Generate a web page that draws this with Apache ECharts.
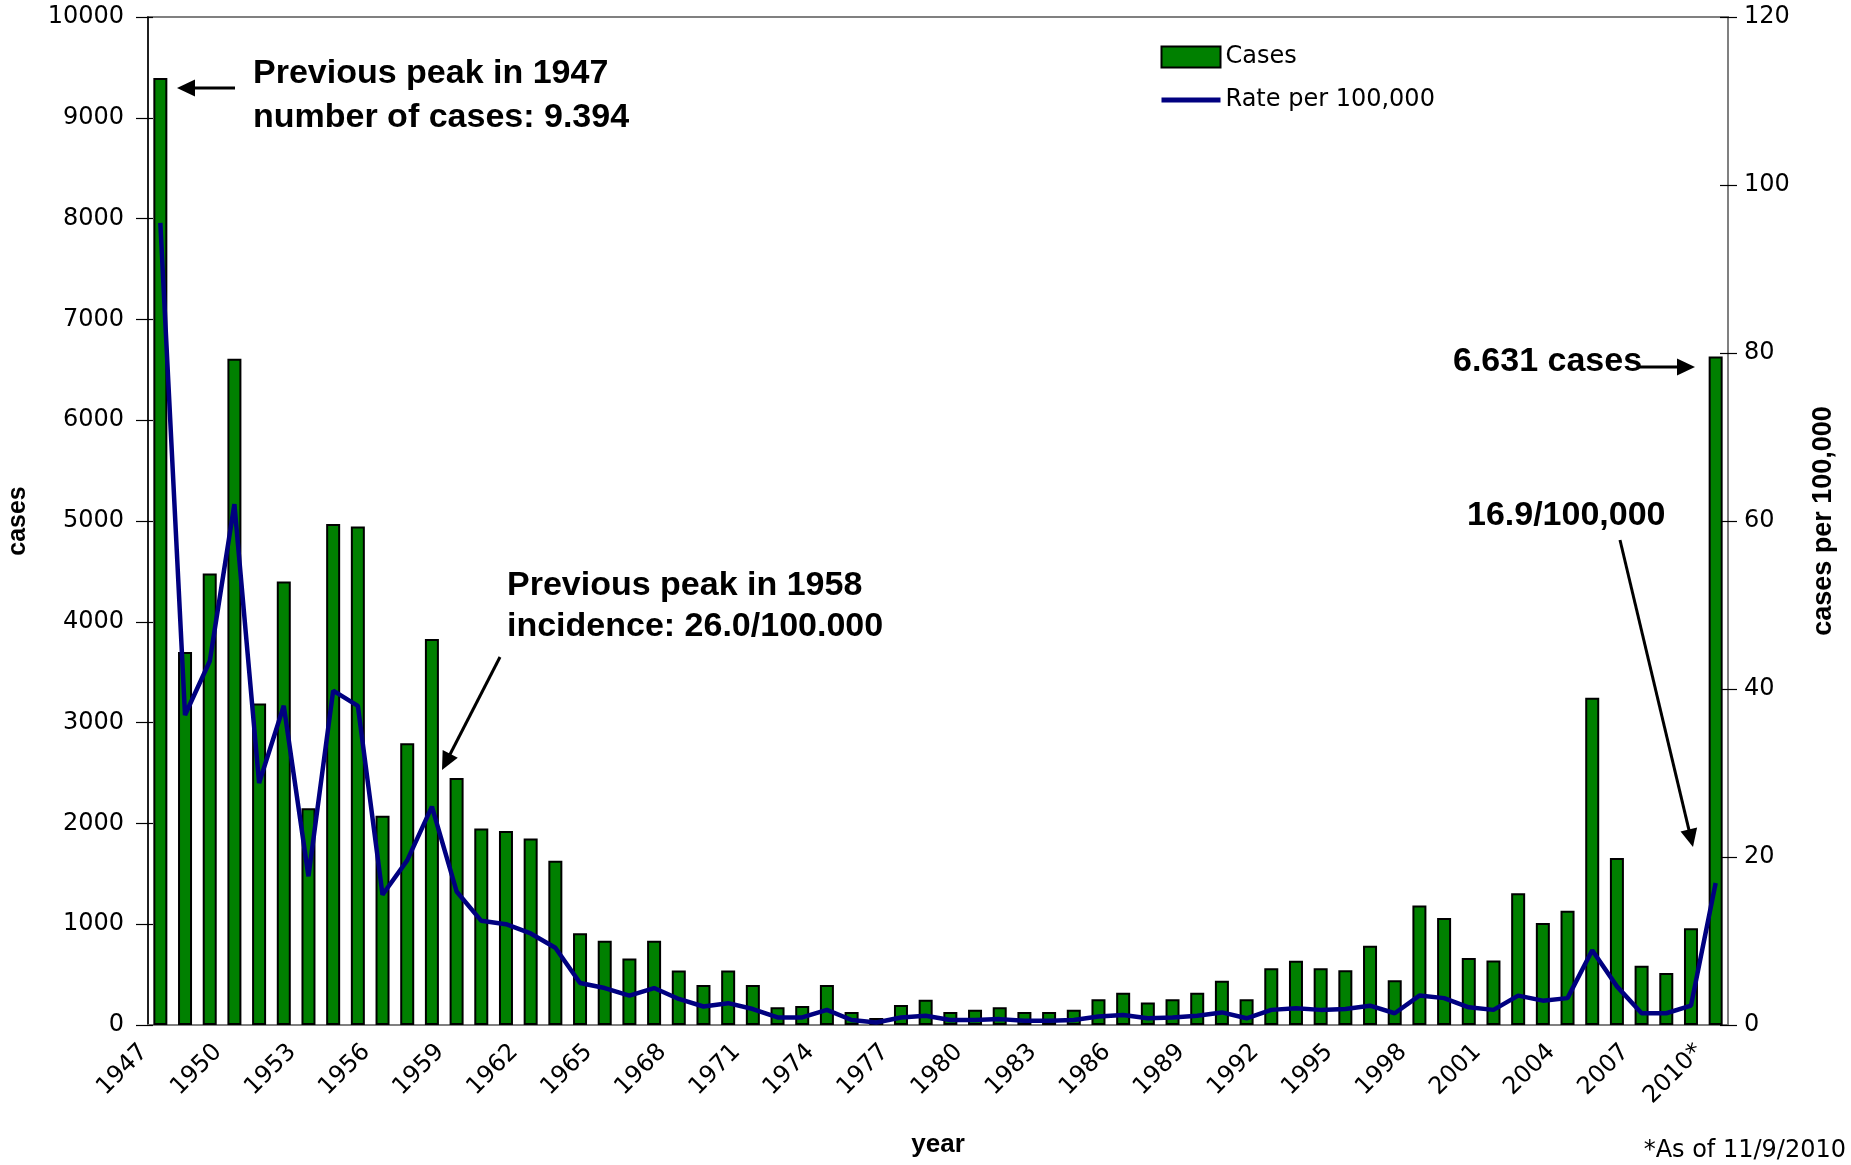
<!DOCTYPE html>
<html>
<head>
<meta charset="utf-8">
<script src="https://cdn.jsdelivr.net/npm/echarts@6/dist/echarts.min.js"></script>
<style>
html,body{margin:0;padding:0;background:#fff;}
#chart{width:1851px;height:1165px;}
</style>
</head>
<body>
<div id="chart"></div>
<script>
const categories = ['1947','1948','1949','1950','1951','1952','1953','1954','1955','1956',
  '1957','1958','1959','1960','1961','1962','1963','1964','1965','1966',
  '1967','1968','1969','1970','1971','1972','1973','1974','1975','1976',
  '1977','1978','1979','1980','1981','1982','1983','1984','1985','1986',
  '1987','1988','1989','1990','1991','1992','1993','1994','1995','1996',
  '1997','1998','1999','2000','2001','2002','2003','2004','2005','2006',
  '2007','2008','2009','2010*'];

const cases = [9394,3700,4480,6610,3190,4400,2150,4970,4945,2075,
  2795,3830,2450,1950,1925,1850,1630,910,835,660,
  835,540,397,540,397,176,188,397,129,70,
  199,250,129,152,176,129,129,152,255,321,
  223,255,321,440,255,562,638,562,542,787,
  443,1185,1061,665,641,1306,1012,1134,3247,1657,
  589,515,959,6631];

const ratePer100k = [95.5,36.9,43.3,62.0,28.8,38.0,17.7,39.8,38.0,15.5,
  19.6,26.0,15.9,12.4,12.0,10.9,9.2,5.0,4.4,3.5,
  4.4,3.1,2.2,2.6,1.9,0.9,0.9,1.8,0.6,0.3,
  0.9,1.1,0.6,0.6,0.7,0.5,0.5,0.6,1.0,1.2,
  0.8,0.9,1.1,1.5,0.8,1.8,2.0,1.8,1.9,2.3,
  1.4,3.5,3.2,2.1,1.8,3.5,2.9,3.2,8.9,4.6,
  1.4,1.4,2.3,16.9];

const casesTicks = {min: 0, max: 10000, interval: 1000};
const rateTicks = {min: 0, max: 120, interval: 20};

const regularFont = 'DejaVu Sans';
const boldFont = 'Liberation Sans';

function arrow(x1, y1, x2, y2) {
  const dx = x2 - x1, dy = y2 - y1;
  const len = Math.sqrt(dx * dx + dy * dy);
  const ux = dx / len, uy = dy / len;
  const L = 18, W = 8.5;
  const bx = x2 - ux * L, by = y2 - uy * L;
  const nx = -uy, ny = ux;
  return [
    {type: 'line', silent: true, z: 100,
      shape: {x1: x1, y1: y1, x2: bx + ux * 2, y2: by + uy * 2},
      style: {stroke: '#000', lineWidth: 3}},
    {type: 'polygon', silent: true, z: 100,
      shape: {points: [[x2, y2], [bx + nx * W, by + ny * W], [bx - nx * W, by - ny * W]]},
      style: {fill: '#000'}}
  ];
}

function label(text, x, y) {
  return {type: 'text', silent: true, z: 100,
    style: {text: text, x: x, y: y, font: 'bold 34px "' + boldFont + '"',
      fill: '#000', textAlign: 'left', textVerticalAlign: 'middle'}};
}

const plainNumber = function (v) { return String(v); };

function innerTicks(position, ticks, len) {
  return {
    type: 'value', position: position,
    min: ticks.min, max: ticks.max, interval: ticks.interval,
    axisLine: {show: false},
    axisTick: {show: true, inside: true, length: len, lineStyle: {color: '#000', width: 1.2}},
    axisLabel: {show: false},
    splitLine: {show: false}
  };
}

const chart = echarts.init(document.getElementById('chart'));
chart.setOption({
  animation: false,
  backgroundColor: '#fff',
  grid: {left: 148, right: 123, top: 17, bottom: 140, containLabel: false,
    outerBoundsMode: 'none',
    show: true, borderColor: '#808080', borderWidth: 2},
  legend: {
    orient: 'vertical', left: 1154, top: 40,
    itemWidth: 59, itemHeight: 21, itemGap: 19,
    textStyle: {fontFamily: regularFont, fontSize: 24, color: '#000'},
    data: [{name: 'Cases', icon: 'rect'},
      {name: 'Rate per 100,000', itemStyle: {opacity: 0}, lineStyle: {width: 5, color: '#000080'}}]
  },
  xAxis: {
    type: 'category', data: categories, boundaryGap: true,
    axisLine: {lineStyle: {color: '#808080', width: 2}},
    axisTick: {show: false},
    axisLabel: {interval: 2, rotate: 45, fontFamily: regularFont, fontSize: 24, color: '#000',
      margin: 7, formatter: function (v) { return v + '   '; }},
    splitLine: {show: false},
    name: 'year', nameLocation: 'middle', nameGap: 107,
    nameTextStyle: {fontFamily: boldFont, fontWeight: 'bold', fontSize: 26, color: '#000'}
  },
  yAxis: [{
    type: 'value', position: 'left',
    min: casesTicks.min, max: casesTicks.max, interval: casesTicks.interval,
    axisLine: {show: true, lineStyle: {color: '#000', width: 1.5}},
    axisTick: {show: true, length: 12, lineStyle: {color: '#000', width: 1.2}},
    axisLabel: {fontFamily: regularFont, fontSize: 24, color: '#000', margin: 24, formatter: plainNumber},
    splitLine: {show: false},
    name: 'cases', nameLocation: 'middle', nameGap: 117, nameRotate: 90,
    nameTextStyle: {fontFamily: boldFont, fontWeight: 'bold', fontSize: 25, color: '#000'}
  }, {
    type: 'value', position: 'right',
    min: rateTicks.min, max: rateTicks.max, interval: rateTicks.interval,
    axisLine: {show: true, lineStyle: {color: '#808080', width: 2}},
    axisTick: {show: true, length: 9, lineStyle: {color: '#000', width: 1.2}},
    axisLabel: {fontFamily: regularFont, fontSize: 24, color: '#000', margin: 16, formatter: plainNumber},
    splitLine: {show: false},
    name: 'cases per 100,000', nameLocation: 'middle', nameGap: 82, nameRotate: 90,
    nameTextStyle: {fontFamily: boldFont, fontWeight: 'bold', fontSize: 27, color: '#000'}
  },
  innerTicks('left', casesTicks, 5),
  innerTicks('right', rateTicks, 8)],
  series: [{
    name: 'Cases', type: 'bar', yAxisIndex: 0, data: cases,
    barWidth: 14,
    itemStyle: {color: '#008000', borderColor: '#000', borderWidth: 2}
  }, {
    name: 'Rate per 100,000', type: 'line', yAxisIndex: 1, data: ratePer100k,
    symbol: 'none', showSymbol: false,
    lineStyle: {color: '#000080', width: 4.5},
    itemStyle: {color: '#000080'}, z: 5
  }],
  graphic: [].concat(
    label('Previous peak in 1947', 253, 74),
    label('number of cases: 9.394', 253, 118),
    arrow(235, 88, 177, 88),
    label('Previous peak in 1958', 507, 586),
    label('incidence: 26.0/100.000', 507, 627),
    arrow(500, 657, 442, 770),
    label('6.631 cases', 1453, 362),
    arrow(1638, 367, 1695, 367),
    label('16.9/100,000', 1467, 516),
    arrow(1620, 540, 1693, 847),
    [{type: 'text', silent: true, z: 100,
      style: {text: '*As of 11/9/2010', x: 1846, y: 1151, font: '24px "' + regularFont + '"',
        fill: '#000', textAlign: 'right', textVerticalAlign: 'middle'}}]
  )
});
</script>
</body>
</html>
